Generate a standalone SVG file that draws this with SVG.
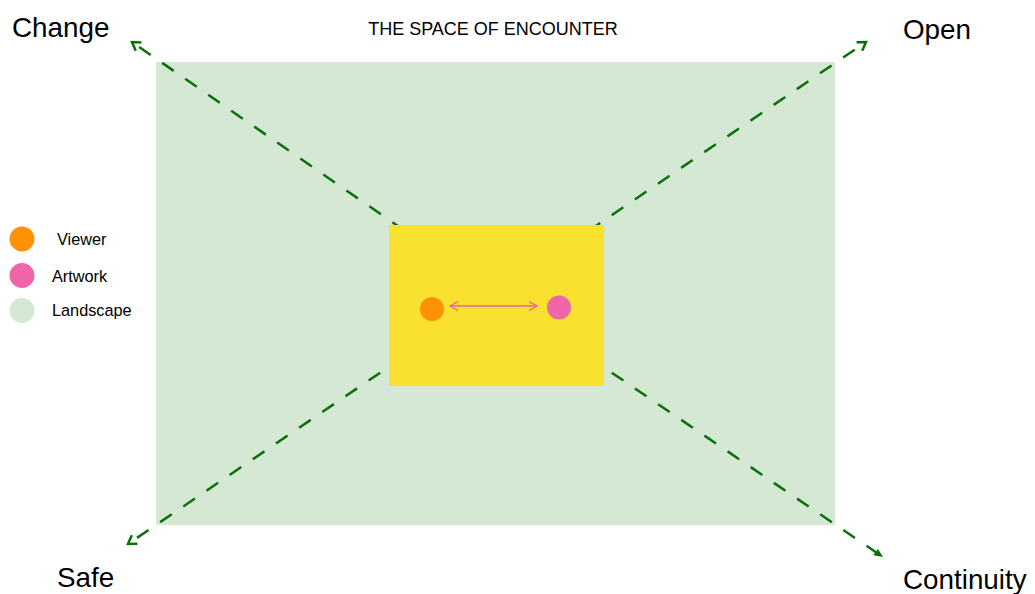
<svg xmlns="http://www.w3.org/2000/svg" width="1035" height="594" viewBox="0 0 1035 594">
<style>
text{font-family:"Liberation Sans",Arial,Helvetica,sans-serif;fill:#000}
.big{font-size:27.8px}
.title{font-size:18px}
.leg{font-size:16.3px}
.dash{stroke:#0a700a;stroke-width:2.5;stroke-dasharray:14 14;fill:none}
</style>
<defs>
<marker id="chev" markerUnits="userSpaceOnUse" viewBox="0 0 12 12" refX="10" refY="6" markerWidth="12" markerHeight="12" orient="auto">
<path d="M2,1 L10,6 L2,11" fill="none" stroke="#0a700a" stroke-width="2.5"/>
</marker>
<marker id="tri" markerUnits="userSpaceOnUse" viewBox="0 0 10 10" refX="9" refY="5" markerWidth="10" markerHeight="10" orient="auto">
<path d="M0,1 L9,5 L0,9 Z" fill="#0a700a"/>
</marker>
<marker id="pink" markerUnits="userSpaceOnUse" viewBox="0 0 10 12" refX="9" refY="6" markerWidth="10" markerHeight="12" orient="auto-start-reverse">
<path d="M1,1.5 L9,6 L1,10.5" fill="none" stroke="#ee5fa7" stroke-width="1.3"/>
</marker>
</defs>
<rect width="1035" height="594" fill="#fff"/>
<g id="landscape"><rect x="156" y="62" width="679" height="463" fill="#d5e8d4"/></g>
<g id="connectors">
<line class="dash" x1="496" y1="294" x2="132" y2="42" marker-end="url(#chev)"/>
<line class="dash" x1="496" y1="294" x2="866" y2="42" marker-end="url(#chev)"/>
<line class="dash" x1="496" y1="294" x2="128" y2="544" marker-end="url(#chev)"/>
<line class="dash" x1="496" y1="294" x2="883" y2="557" marker-end="url(#tri)"/>
</g>
<g id="encounter"><rect x="389" y="225" width="215" height="161" fill="#f9e12f"/></g>
<g id="viewer"><circle cx="432" cy="309" r="12" fill="#ff9105"/></g>
<g id="artwork"><circle cx="559" cy="307.5" r="12" fill="#f064aa"/></g>
<g id="encounter-link"><line x1="450" y1="306" x2="537" y2="306" stroke="#ee5fa7" stroke-width="1.3" marker-start="url(#pink)" marker-end="url(#pink)"/></g>
<g id="title"><text class="title" x="493" y="35" text-anchor="middle">THE SPACE OF ENCOUNTER</text></g>
<g id="label-change"><text class="big" x="12" y="37">Change</text></g>
<g id="label-open"><text class="big" x="903" y="39">Open</text></g>
<g id="label-safe"><text class="big" x="57" y="587">Safe</text></g>
<g id="label-continuity"><text class="big" x="903" y="589">Continuity</text></g>
<g id="legend">
<circle cx="22" cy="239" r="12.5" fill="#ff9105"/>
<text class="leg" x="57" y="245">Viewer</text>
<circle cx="22" cy="275.5" r="12.5" fill="#f064aa"/>
<text class="leg" x="52" y="281.5">Artwork</text>
<circle cx="22" cy="310.5" r="12.5" fill="#d5e8d4"/>
<text class="leg" x="52" y="315.5">Landscape</text>
</g>
</svg>
